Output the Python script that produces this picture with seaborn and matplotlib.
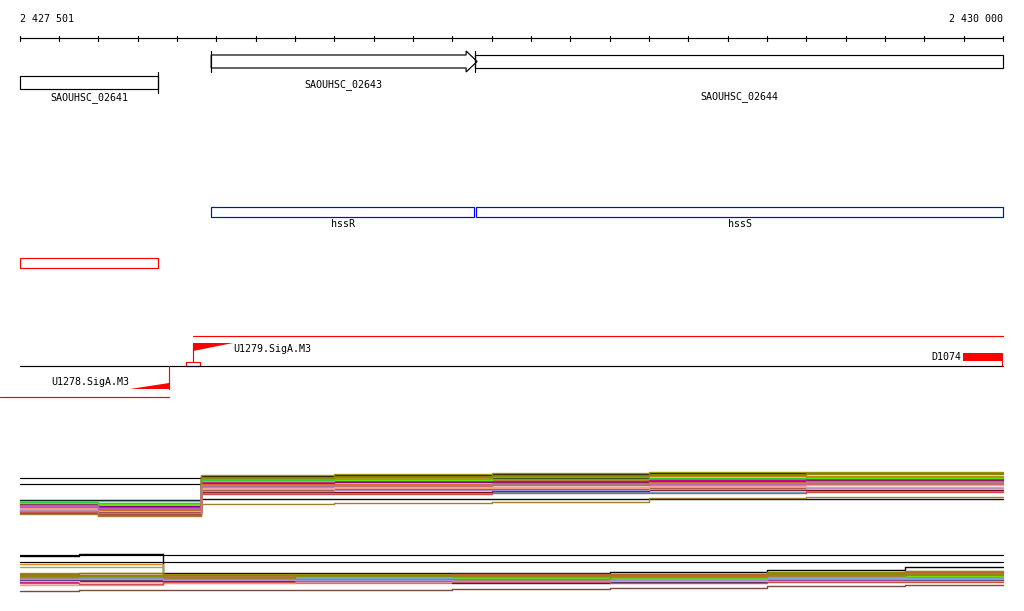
import numpy as np
import pandas as pd
import matplotlib
matplotlib.use('Agg')
import matplotlib.pyplot as plt
import seaborn as sns
from matplotlib.patches import Rectangle, Polygon

sns.set_theme(style='white')
plt.rcParams['font.family'] = ['DejaVu Sans Mono', 'DejaVu Sans']
plt.rcParams['text.color'] = 'black'

########################################
# data
########################################
region_start = 2427501
region_end = 2430000
tick_step = 100

gene_names = ['SAOUHSC_02641', 'SAOUHSC_02643', 'SAOUHSC_02644']
gene_starts = [2427501, 2427987, 2428658]
gene_ends = [2427852, 2428658, 2430000]

cds_names = ['hssR', 'hssS']
cds_starts = [2427987, 2428661]
cds_ends = [2428655, 2430000]

red_feature = (2427501, 2427852)

fwd_transcript = (2427941, 2430000)
rev_transcript = (2427450, 2427880)
tss_names = ['U1279.SigA.M3', 'U1278.SigA.M3']
tss_pos = [2427941, 2427880]
d_name = 'D1074'
d_range = (2429898, 2430000)
small_box = (2427923, 2427959)

# expression track 1
pos1 = [2427501, 2427700, 2427960, 2428300, 2428700, 2429100, 2429500, 2430000]
expr1 = {
    '#000000': [9.0, 9.0, 11.4, 11.5, 11.6, 11.7, 11.7],
    '#111111': [8.5, 8.6, 9.1, 9.1, 9.1, 9.1, 9.1],
    '#999900': [8.7, 8.4, 11.5, 11.6, 11.7, 11.8, 11.8],
    '#808000': [8.0, 7.8, 11.3, 11.4, 11.5, 11.6, 11.7],
    '#e0801f': [8.4, 8.2, 11.1, 11.2, 11.3, 11.4, 11.4],
    '#ff5a30': [8.3, 8.1, 10.9, 11.0, 11.0, 11.1, 11.2],
    '#f08070': [8.1, 8.0, 10.3, 10.4, 10.5, 10.5, 10.6],
    '#800080': [8.6, 8.4, 10.7, 10.8, 10.8, 10.9, 11.0],
    '#d0009a': [8.5, 8.3, 10.8, 10.9, 10.9, 11.0, 11.1],
    '#66ee00': [8.7, 8.6, 10.9, 11.0, 11.1, 11.2, 11.2],
    '#5ab4e8': [8.9, 8.9, 9.7, 9.7, 9.8, 9.8, 9.9],
    '#8b4513': [7.7, 7.6, 10.0, 10.1, 10.1, 10.2, 10.2],
    '#7a1010': [7.9, 7.8, 9.8, 9.8, 9.9, 10.0, 10.0],
    '#c0603a': [7.8, 7.7, 10.4, 10.4, 10.5, 10.6, 10.6],
    '#f4a0b0': [8.2, 8.1, 10.2, 10.3, 10.3, 10.4, 10.5],
    '#a890d0': [8.0, 7.9, 9.9, 10.0, 10.0, 10.1, 10.2],
    '#a08030': [7.6, 7.4, 8.6, 8.7, 8.8, 9.2, 9.3],
    '#d2691e': [8.3, 8.0, 10.6, 10.6, 10.7, 10.8, 10.9],
    '#33cc33': [8.8, 8.7, 11.0, 11.1, 11.1, 11.2, 11.3],
    '#f4a080': [8.1, 7.9, 10.1, 10.2, 10.2, 10.3, 10.3],
    '#8a8a10': [8.5, 8.1, 11.2, 11.3, 11.4, 11.5, 11.6],
    '#cd4c4c': [7.8, 7.5, 9.6, 9.6, 9.7, 9.7, 9.8],
    '#c060c0': [8.4, 8.2, 10.4, 10.5, 10.6, 10.6, 10.7],
    '#b08080': [7.9, 7.7, 10.5, 10.5, 10.6, 10.7, 10.8],
}
ref1 = [11.2, 10.6]

# expression track 2
pos2 = [2427501, 2427650, 2427865, 2428200, 2428600, 2429000, 2429400, 2429750, 2430000]
expr2 = {
    '#000000': [11.4, 11.6, 9.7, 9.7, 9.7, 9.8, 10.0, 10.3],
    '#e08020': [10.6, 10.6, 9.5, 9.4, 9.5, 9.5, 9.6, 9.7],
    '#88bb22': [10.3, 10.3, 9.4, 9.3, 9.3, 9.4, 9.8, 9.9],
    '#999900': [9.7, 9.7, 9.6, 9.6, 9.6, 9.6, 9.8, 9.9],
    '#808000': [9.6, 9.7, 9.5, 9.5, 9.4, 9.5, 9.7, 9.8],
    '#d2691e': [9.4, 9.5, 9.4, 9.4, 9.5, 9.4, 9.5, 9.6],
    '#ff5a30': [9.0, 9.0, 9.2, 9.1, 9.2, 9.2, 9.2, 9.3],
    '#f08070': [8.7, 8.8, 8.9, 9.0, 9.0, 9.1, 9.1, 9.2],
    '#f4a080': [8.5, 8.5, 8.7, 8.7, 8.8, 8.8, 8.9, 9.0],
    '#d0009a': [8.8, 8.9, 9.0, 8.9, 8.8, 8.9, 9.0, 9.0],
    '#800080': [8.9, 9.0, 8.8, 8.8, 8.9, 9.0, 9.0, 8.9],
    '#66ee00': [9.1, 9.1, 9.1, 9.3, 9.2, 9.2, 9.3, 9.4],
    '#5ab4e8': [9.2, 9.2, 9.3, 9.2, 9.1, 9.1, 9.2, 9.2],
    '#7a4a40': [7.9, 8.0, 8.0, 8.0, 8.1, 8.2, 8.4, 8.5],
    '#1a1a60': [9.0, 8.9, 8.9, 8.8, 8.7, 8.8, 8.9, 9.0],
    '#a08030': [9.3, 9.3, 9.2, 9.1, 9.1, 9.3, 9.4, 9.5],
    '#f4a0b0': [8.9, 8.8, 8.7, 8.8, 8.9, 8.9, 8.9, 8.9],
    '#c0603a': [9.5, 9.5, 9.5, 9.5, 9.6, 9.6, 9.7, 9.8],
    '#b08080': [9.2, 9.3, 9.1, 9.0, 9.0, 9.0, 9.1, 9.1],
    '#8a8a10': [9.4, 9.4, 9.3, 9.4, 9.4, 9.5, 9.6, 9.6],
    '#cd4c4c': [8.7, 8.6, 8.8, 8.9, 8.8, 8.7, 8.8, 8.8],
    '#a890d0': [9.1, 9.1, 9.0, 9.0, 8.9, 9.0, 9.1, 9.1],
}
ref2 = [11.5, 10.8]

########################################
# layout helpers (pixel rows for tracks)
########################################
W, H = 1024, 611
bpp = (region_end - region_start) / (1003 - 20)
xlim = (region_start - 20 * bpp, region_start + (W - 20) * bpp)
FS = 7.2
LW = 0.85


def to_long(pos, expr):
    rows = []
    for col, vals in expr.items():
        v = list(vals) + [vals[-1]]
        for x, y in zip(pos, v):
            rows.append({'pos': x, 'val': y, 'series': col})
    return pd.DataFrame(rows)


fig = plt.figure(figsize=(W / 100, H / 100), dpi=100)
ax = fig.add_axes([0, 0, 1, 1])
ax.set_xlim(*xlim)
ax.set_ylim(H, 0)
ax.axis('off')

# ruler
ax.plot([region_start, region_end], [38, 38], color='black', lw=LW)
for t in range(region_start - 1, region_end + 1, tick_step):
    ax.plot([t, t], [35.5, 41], color='black', lw=LW)
ax.text(region_start, 19, f"{region_start:,}".replace(',', ' '), fontsize=FS,
        ha='left', va='center', color='black')
ax.text(region_end, 19, f"{region_end:,}".replace(',', ' '), fontsize=FS,
        ha='right', va='center', color='black')

# genes
ax.add_patch(Rectangle((gene_starts[0], 76), gene_ends[0] - gene_starts[0], 13,
                       fill=False, ec='black', lw=LW))
ax.plot([gene_ends[0]] * 2, [72, 93], color='black', lw=LW)
ax.text((gene_starts[0] + gene_ends[0]) / 2, 98, gene_names[0], fontsize=FS,
        ha='center', va='center', color='black')

s, e = gene_starts[1], gene_ends[1]
neck = e - 9 * bpp
tip = e + 2 * bpp
ax.add_patch(Polygon([(s, 55), (neck, 55), (neck, 51), (tip, 61.5), (neck, 72),
                      (neck, 68), (s, 68)], closed=True, fill=False, ec='black', lw=LW))
ax.plot([s, s], [51, 72], color='black', lw=LW)
ax.text((s + e) / 2, 85, gene_names[1], fontsize=FS, ha='center', va='center',
        color='black')

ax.add_patch(Rectangle((gene_starts[2], 55), gene_ends[2] - gene_starts[2], 13,
                       fill=False, ec='black', lw=LW))
ax.plot([gene_starts[2]] * 2, [51, 72], color='black', lw=LW)
ax.text((gene_starts[2] + gene_ends[2]) / 2, 97, gene_names[2], fontsize=FS,
        ha='center', va='center', color='black')

# CDS (blue)
for n, cs, ce in zip(cds_names, cds_starts, cds_ends):
    ax.add_patch(Rectangle((cs, 207), ce - cs, 10, fill=False, ec='#0000ff', lw=LW))
    ax.text((cs + ce) / 2, 224, n, fontsize=FS, ha='center', va='center', color='black')

# red feature
ax.add_patch(Rectangle((red_feature[0], 258), red_feature[1] - red_feature[0], 10,
                       fill=False, ec='#ff0000', lw=LW))

# transcripts / TSS
ax.plot([region_start, region_end], [366, 366], color='black', lw=LW)
ax.plot(list(fwd_transcript), [336, 336], color='#ff0000', lw=LW)
ax.plot(list(rev_transcript), [397, 397], color='#ff0000', lw=LW)

p = tss_pos[0]
ax.plot([p, p], [343, 362], color='#ff0000', lw=LW)
ax.add_patch(Polygon([(p, 343), (p + 40 * bpp, 343), (p, 351)], closed=True,
                     color='#ff0000', lw=0))
ax.add_patch(Rectangle((small_box[0], 362), small_box[1] - small_box[0], 4,
                       fill=False, ec='#ff0000', lw=LW))
ax.text(p + 40 * bpp, 349, tss_names[0], fontsize=FS, ha='left', va='center',
        color='black')

p = tss_pos[1]
ax.plot([p, p], [366, 389], color='#ff0000', lw=LW)
ax.add_patch(Polygon([(p, 389), (p - 39 * bpp, 389), (p, 383)], closed=True,
                     color='#ff0000', lw=0))
ax.text(p - 40 * bpp, 382, tss_names[1], fontsize=FS, ha='right', va='center',
        color='black')

ax.add_patch(Rectangle((d_range[0], 353), d_range[1] - d_range[0], 8,
                       color='#ff0000', lw=0))
ax.plot([d_range[1] - bpp] * 2, [361, 366], color='#ff0000', lw=LW)
ax.text(d_range[0] - 2 * bpp, 357, d_name, fontsize=FS, ha='right', va='center',
        color='black')

# expression tracks
for (top_px, pos, expr, refs) in [(465, pos1, expr1, ref1), (545, pos2, expr2, ref2)]:
    eax = fig.add_axes([0, 1 - (top_px + 55) / H, 1, 55 / H])
    eax.patch.set_alpha(0)
    for r in refs:
        eax.plot([region_start, region_end], [r, r], color='black', lw=LW, zorder=1)
    df = to_long(pos, expr)
    sns.lineplot(data=df, x='pos', y='val', hue='series',
                 palette={c: c for c in expr}, estimator=None,
                 drawstyle='steps-post', linewidth=1.0, legend=False, ax=eax,
                 zorder=2)
    eax.set_xlim(*xlim)
    eax.set_ylim(7.0, 12.5)
    eax.axis('off')

fig.savefig('out.png', dpi=100, facecolor='white')
